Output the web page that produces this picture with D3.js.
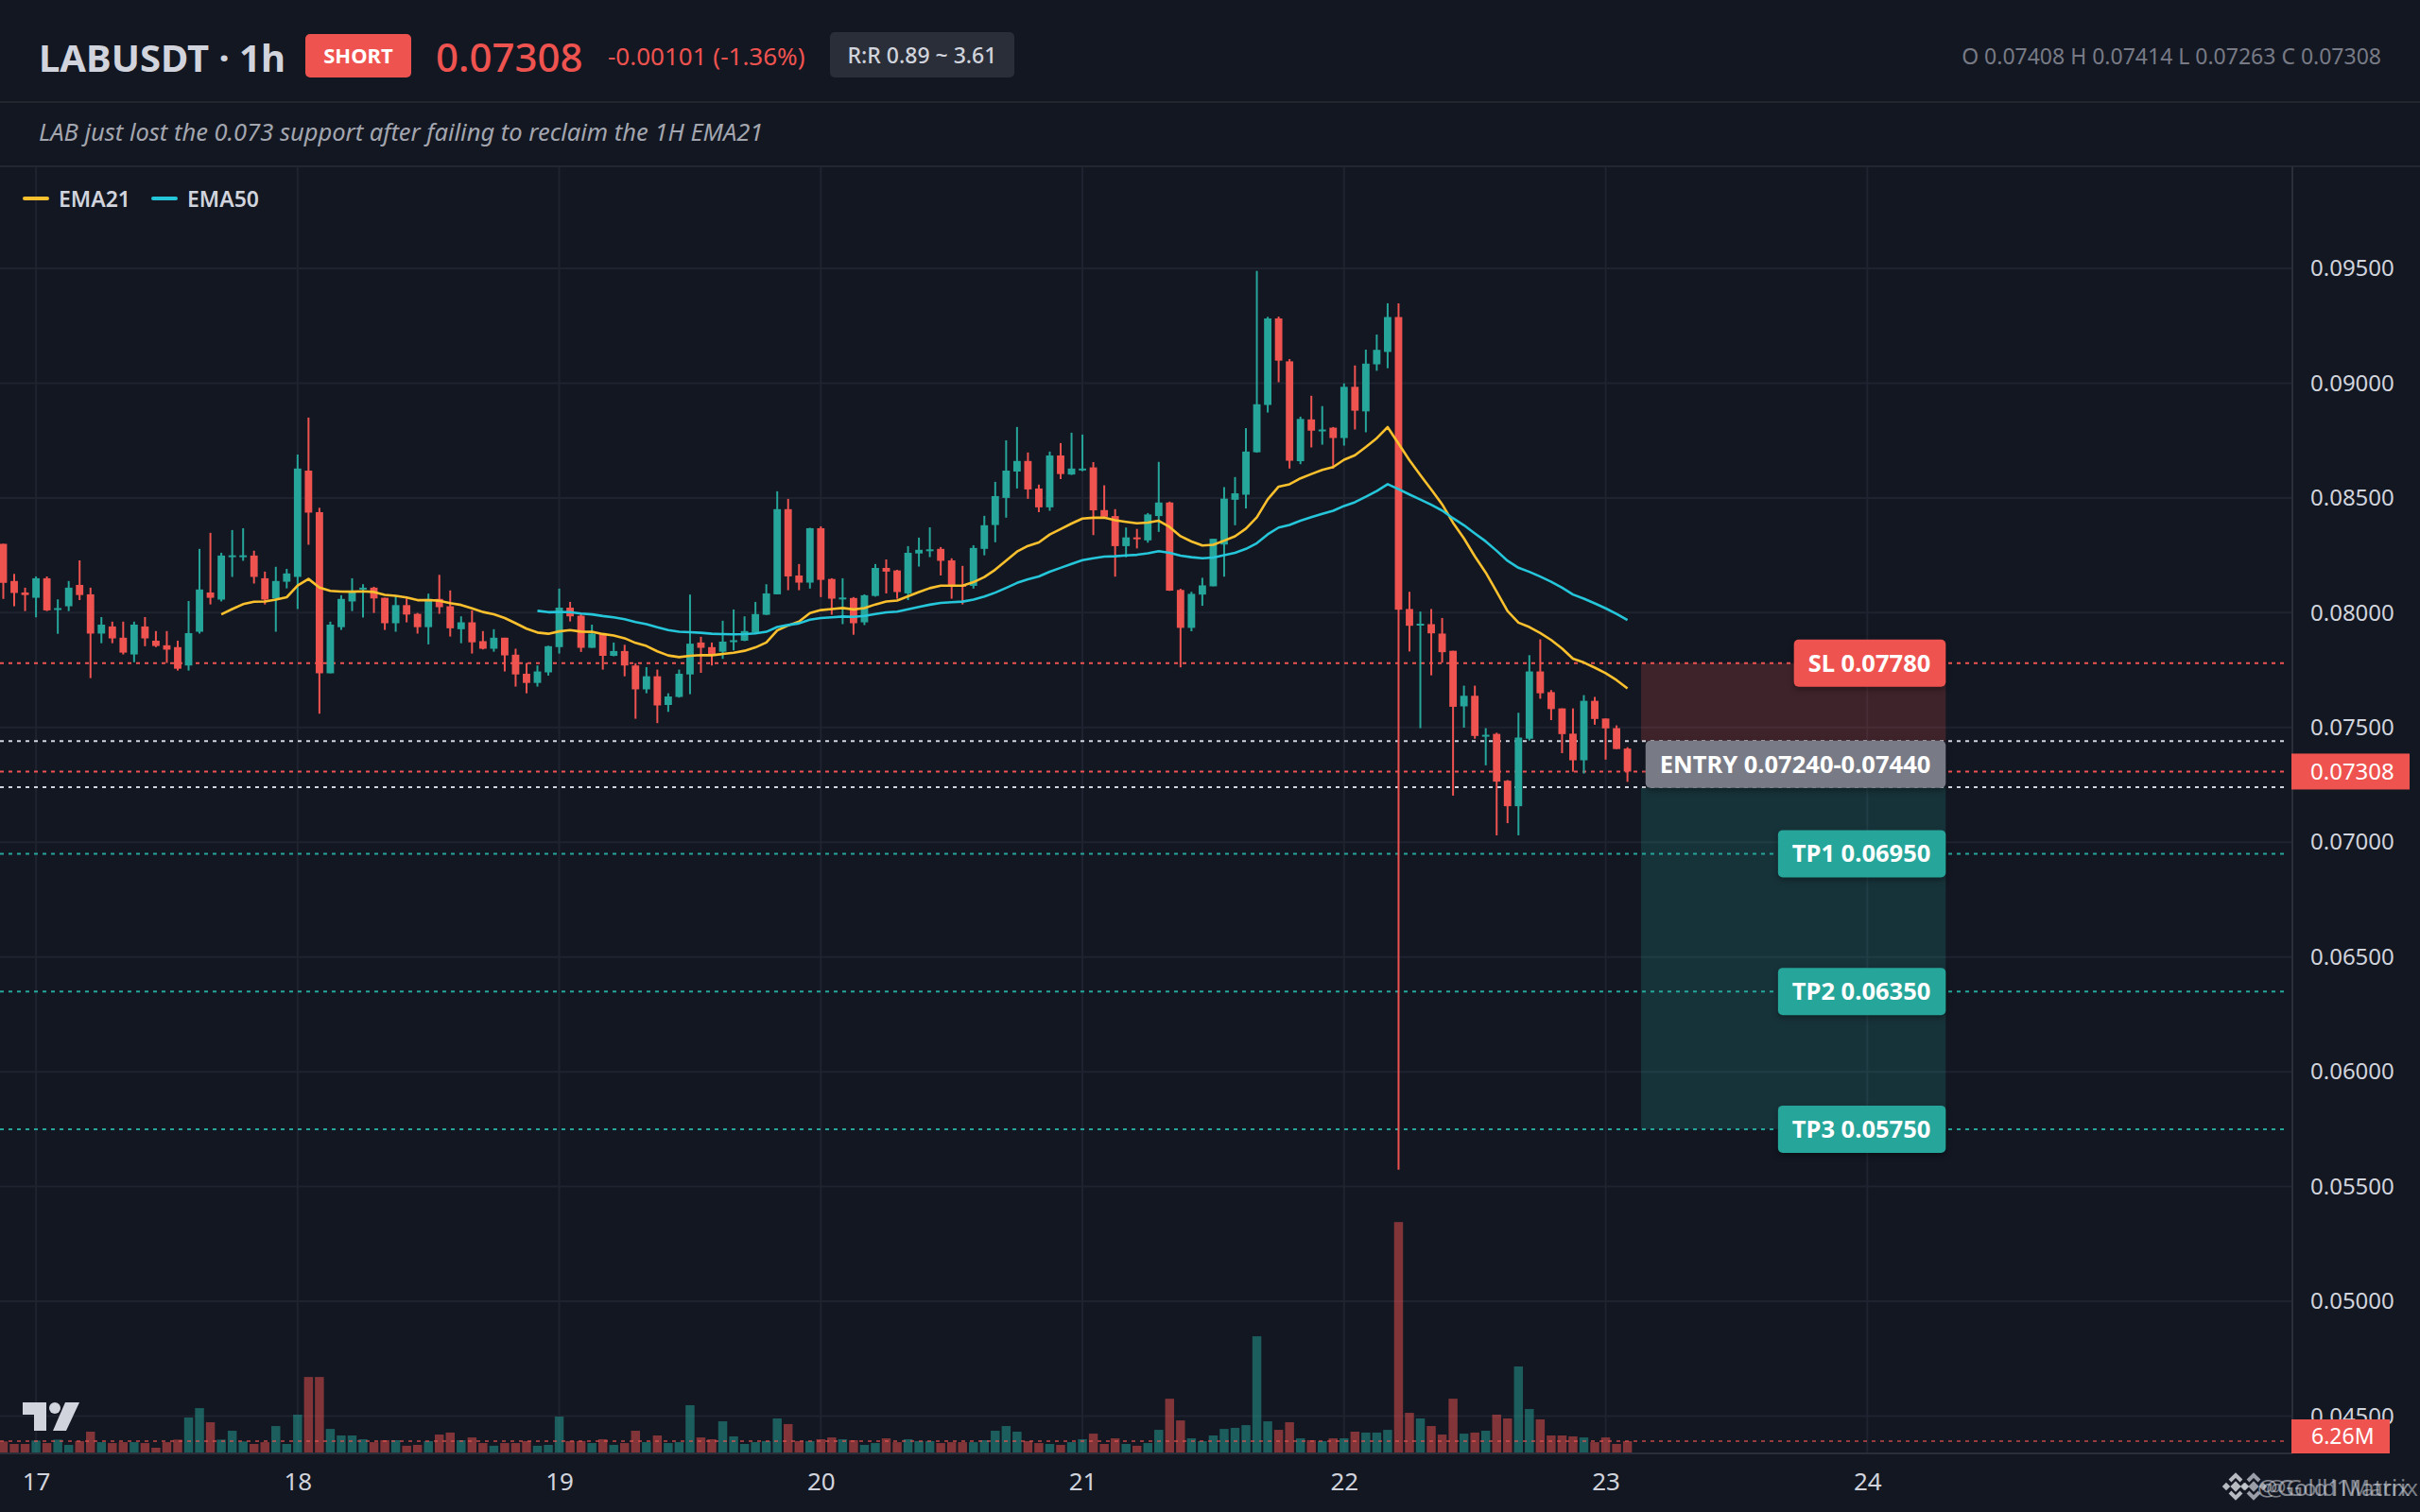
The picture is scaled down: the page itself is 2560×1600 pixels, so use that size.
<!DOCTYPE html>
<html><head><meta charset="utf-8">
<script src="https://cdn.jsdelivr.net/npm/d3@7"></script>
<style>
html,body{margin:0;padding:0;background:#131722;overflow:hidden;}
svg{display:block;font-family:"Noto Sans","Open Sans",sans-serif;}
</style></head><body>
<svg id="chart" width="2560" height="1600"></svg>
<script>
// ---------------- data ----------------
const symbolTitle = "LABUSDT · 1h";
const sideLabel = "SHORT";
const lastPriceText = "0.07308";
const changeText = "-0.00101 (-1.36%)";
const riskRewardText = "R:R 0.89 ~ 3.61";
const ohlcText = "O 0.07408 H 0.07414 L 0.07263 C 0.07308";
const noteText = "LAB just lost the 0.073 support after failing to reclaim the 1H EMA21";
const legendNames = ["EMA21", "EMA50"];
const emaLengths = [21, 50];

const firstCandleTime = Date.UTC(2025, 8, 16, 21); // hourly candles from the 16th 21:00
const opens = [.0830,.08138,.08088,.08065,.0815,.08015,.08028,.08121,.0808,.07909,.0794,.07891,.07818,.0794,.07878,.07858,.0785,.0777,.07917,.08088,
.08057,.08247,.08247,.08249,.0815,.08062,.08135,.08156,.08619,.08438,.07736,.07937,.08049,.08101,.08109,.08065,.07954,.08033,.07995,.07937,
.0806,.08028,.07928,.07958,.07876,.07843,.07891,.07817,.07734,.07694,.0774,.0785,.08022,.07987,.07847,.07909,.07812,.07833,.0777,.07666,
.07723,.07598,.07633,.07731,.0787,.0785,.0783,.07876,.07878,.07914,.07991,.0808,.08451,.08162,.08131,.08368,.08147,.08062,.08064,.07958,
.08073,.08195,.08184,.08084,.08258,.08273,.08278,.08228,.08121,.08117,.08278,.08382,.085,.08615,.08661,.08541,.08459,.08685,.08602,.08624,
.08633,.08447,.08421,.0829,.08328,.08315,.08421,.0848,.08099,.07934,.08079,.08115,.08297,.08492,.08514,.08699,.08905,.09282,.09095,.0866,
.08842,.08793,.08806,.08761,.08984,.08877,.09082,.09136,.09288,.08016,.07948,.0795,.07909,.07834,.07592,.07638,.07464,.07472,.07268,.07157,
.07451,.07744,.07654,.07583,.07473,.07357,.07616,.07539,.07497,.07408];
const highs = [.0830,.08169,.08109,.08158,.08158,.08058,.08138,.08228,.08109,.07981,.07961,.07961,.07961,.07981,.0792,.0792,.07878,.08051,.08278,.08348,
.08261,.0836,.08368,.0827,.08179,.082,.08191,.08689,.0885,.08457,.07961,.08076,.0815,.08124,.08113,.08065,.08076,.08062,.07999,.08083,
.08165,.08097,.07984,.0801,.0792,.07928,.07891,.07843,.07781,.0777,.07856,.08105,.08047,.07994,.07948,.07909,.0787,.0786,.0778,.07763,
.07752,.07649,.07752,.08079,.07895,.0787,.07965,.08014,.07984,.08047,.08124,.08529,.08496,.08212,.0837,.08376,.0815,.0815,.08068,.0808,
.08212,.08232,.08187,.0829,.08327,.08372,.08286,.08237,.08204,.08294,.08422,.0857,.08751,.08809,.08698,.08558,.08702,.08739,.08784,.08776,
.08656,.08555,.08451,.08371,.08365,.08434,.08657,.08484,.08104,.08091,.08152,.08322,.08547,.08591,.08804,.09489,.09289,.0929,.09105,.08854,
.08945,.089,.08809,.08999,.09077,.09146,.09212,.09348,.09348,.08091,.08005,.08016,.07977,.07834,.07682,.07682,.07497,.07477,.07271,.07564,
.07815,.07884,.07663,.07583,.07583,.07641,.07633,.07539,.07509,.07414];
const lows = [.0806,.08028,.08007,.0798,.08007,.07908,.08007,.08055,.07715,.07867,.07867,.07818,.07784,.07854,.0785,.07781,.07748,.07748,.07909,.08036,
.08049,.08156,.08226,.08127,.08036,.07917,.08106,.08016,.08296,.0756,.07736,.07925,.08007,.07979,.07999,.07925,.07917,.07958,.07909,.07862,
.07995,.07896,.07867,.07822,.0784,.0783,.07744,.07678,.07649,.07678,.07726,.07822,.07962,.07829,.07847,.07752,.0781,.07723,.07538,.07649,
.07519,.07568,.0763,.07645,.07738,.0777,.07799,.07836,.07876,.0791,.0799,.0808,.08098,.08098,.08105,.08068,.07991,.0795,.07904,.07946,
.0807,.08084,.08061,.08055,.08201,.08242,.08162,.08061,.08036,.08105,.0825,.08307,.08414,.08541,.08496,.08438,.08444,.08582,.086,.08616,
.08338,.08418,.08157,.08241,.0828,.08305,.08352,.08095,.07762,.07919,.0803,.08115,.08157,.08381,.08454,.08697,.08872,.09004,.08628,.08647,
.0872,.08732,.08628,.08728,.08798,.08786,.09054,.09065,.05574,.07831,.07497,.07727,.07782,.07203,.07499,.07451,.07335,.0703,.07083,.0703,
.07443,.07625,.07532,.07388,.07307,.07299,.07512,.0736,.07406,.07263];
const closes = [.0813,.08086,.08077,.0815,.0801,.0802,.08109,.08077,.07909,.07948,.07888,.07826,.07948,.07888,.07855,.07839,.07756,.07911,.08101,.08065,
.08249,.0825,.0825,.08156,.08057,.08138,.08171,.08628,.08436,.07736,.07948,.0806,.08088,.08109,.08062,.07954,.08033,.07992,.07937,.0806,
.08024,.07932,.07958,.07871,.07843,.07891,.07814,.07731,.07694,.07744,.07854,.08022,.07984,.07847,.07909,.07812,.07833,.0777,.07666,.07723,
.07596,.07635,.07734,.07865,.07847,.07812,.07874,.0788,.0792,.07994,.08084,.08451,.08158,.08131,.08368,.08143,.08061,.08066,.07954,.08076,
.08195,.08179,.0809,.08261,.08274,.08276,.08226,.08121,.08118,.08282,.08381,.08508,.08619,.08661,.08537,.08459,.08685,.08604,.08628,.08628,
.08446,.08418,.0829,.08328,.08324,.08428,.0848,.08096,.07934,.08082,.08119,.08322,.08497,.0852,.08702,.08908,.09282,.09098,.08662,.08844,
.08793,.08798,.08761,.08984,.0888,.09085,.09145,.09288,.08013,.07943,.07952,.0791,.07828,.0759,.07638,.07463,.07468,.07264,.07157,.07456,
.07744,.07649,.0758,.07471,.07357,.07616,.07537,.07496,.07406,.07308];
const volumesM = [6.1,4.7,4.7,6.6,5.2,7.1,4.2,6.3,11.5,5.7,5.2,5.7,5.7,5.2,2.6,5.7,7.1,19.3,24.5,16.7,
7.1,12.0,6.1,4.7,5.7,14.6,4.7,20.9,41.7,41.7,13.0,9.4,9.4,7.3,5.7,6.8,6.8,3.7,4.2,6.3,
9.9,11.0,6.8,8.3,5.2,3.7,5.2,5.2,6.3,3.7,4.2,19.8,6.3,6.3,5.2,7.3,4.2,5.2,12.0,5.7,
9.4,5.2,5.7,26.1,8.3,7.3,17.2,8.9,4.7,5.7,6.3,18.8,15.7,6.3,6.3,7.3,8.3,7.3,6.8,4.2,
5.2,7.8,5.7,7.3,6.3,6.3,5.2,5.7,5.7,5.7,6.8,12.0,14.6,11.5,6.3,5.2,4.7,4.2,5.7,7.3,
10.4,4.7,7.8,4.7,3.7,5.2,12.5,29.7,17.7,7.8,6.3,9.4,13.0,13.6,15.1,64.2,17.2,12.5,16.7,7.8,
6.8,6.3,7.8,7.8,11.5,11.0,11.0,12.5,127.3,21.9,18.8,14.6,9.9,29.7,10.4,11.0,12.0,20.9,18.8,47.5,
24.0,18.3,9.4,9.4,8.9,8.3,5.7,8.3,4.7,6.26];
const lastVolumeLabel = "6.26M";

const priceTicks = [0.045,0.05,0.055,0.06,0.065,0.07,0.075,0.08,0.085,0.09,0.095];
const dayTicks = [17,18,19,20,21,22,23,24];

const stopLoss = 0.0778;
const entryLow = 0.0724, entryHigh = 0.0744;
const targets = [0.0695, 0.0635, 0.0575];
const targetNames = ["TP1", "TP2", "TP3"];
const positionStart = Date.UTC(2025, 8, 23, 3, 15);
const positionEnd = Date.UTC(2025, 8, 24, 7, 12);
const watermark = "@Gold1Matrix";

// ---------------- layout ----------------
const W = 2560, H = 1600;
const plotL = 0, plotR = 2425, plotT = 176, plotB = 1538;
const C = {bg:"#131722", grid:"#1f2330", border:"#2a2e39", text:"#d1d4dc", muted:"#787b86",
  up:"#26a69a", down:"#ef5350", ema21:"#fbc02d", ema50:"#26c6da"};
const HOUR = 3600e3;
const times = opens.map((_, i) => new Date(firstCandleTime + i * HOUR));
const candles = opens.map((o, i) => ({t: times[i], o, h: highs[i], l: lows[i], c: closes[i], v: volumesM[i]}));

const svg = d3.select("#chart");
svg.append("rect").attr("width", W).attr("height", H).attr("fill", C.bg);

const x = d3.scaleUtc()
  .domain([new Date(Date.UTC(2025, 8, 16, 20, 41, 50)), new Date(Date.UTC(2025, 8, 25, 15, 0))])
  .range([plotL, plotR]);
const y = d3.scaleLinear().domain([0.045, 0.095]).range([1498.5, 284]);
const yv = d3.scaleLinear().domain([0, 130]).range([1537, 1288]);
const step = x(new Date(firstCandleTime + HOUR)) - x(new Date(firstCandleTime));

// ---------- header ----------
const hdr = svg.append("g");
hdr.append("text").attr("x", 41).attr("y", 76).attr("font-size", 40).attr("font-weight", 700)
  .attr("fill", C.text).text(symbolTitle);
hdr.append("rect").attr("x", 323).attr("y", 36).attr("width", 112).attr("height", 46).attr("rx", 5).attr("fill", C.down);
hdr.append("text").attr("x", 379).attr("y", 67).attr("text-anchor", "middle").attr("font-size", 22)
  .attr("font-weight", 700).attr("fill", "#fff").text(sideLabel);
hdr.append("text").attr("x", 461).attr("y", 76).attr("font-size", 42).attr("font-weight", 500)
  .attr("fill", C.down).text(lastPriceText);
hdr.append("text").attr("x", 643).attr("y", 69).attr("font-size", 26).attr("fill", C.down).text(changeText);
hdr.append("rect").attr("x", 878).attr("y", 34).attr("width", 195).attr("height", 48).attr("rx", 5).attr("fill", "#2a2e39");
hdr.append("text").attr("x", 975.5).attr("y", 67).attr("text-anchor", "middle").attr("font-size", 23)
  .attr("font-weight", 500).attr("fill", C.text).text(riskRewardText);
hdr.append("text").attr("x", 2519).attr("y", 68).attr("text-anchor", "end").attr("font-size", 23)
  .attr("fill", C.muted).text(ohlcText);
hdr.append("line").attr("x1", 0).attr("x2", W).attr("y1", 108).attr("y2", 108).attr("stroke", "#22262f").attr("stroke-width", 2);
hdr.append("text").attr("x", 41).attr("y", 149).attr("font-size", 25.5).attr("font-style", "italic")
  .attr("fill", "#a3a6af").text(noteText);
hdr.append("line").attr("x1", 0).attr("x2", W).attr("y1", 176).attr("y2", 176).attr("stroke", "#22262f").attr("stroke-width", 2);

// ---------- plot ----------
svg.append("defs").append("clipPath").attr("id", "plotClip")
  .append("rect").attr("x", plotL).attr("y", plotT + 1).attr("width", plotR - plotL).attr("height", plotB - plotT - 1);
const plot = svg.append("g").attr("clip-path", "url(#plotClip)");

const dayDates = dayTicks.map(d => new Date(Date.UTC(2025, 8, d)));
// grid
plot.append("g").selectAll("line").data(priceTicks).join("line")
  .attr("x1", plotL).attr("x2", plotR).attr("y1", d => y(d)).attr("y2", d => y(d))
  .attr("stroke", C.grid).attr("stroke-width", 2);
plot.append("g").selectAll("line").data(dayDates).join("line")
  .attr("x1", d => x(d)).attr("x2", d => x(d)).attr("y1", plotT).attr("y2", plotB)
  .attr("stroke", C.grid).attr("stroke-width", 2);

// position zones
const px0 = x(new Date(positionStart)), px1 = x(new Date(positionEnd));
plot.append("rect").attr("x", px0).attr("width", px1 - px0)
  .attr("y", y(stopLoss)).attr("height", y(entryHigh) - y(stopLoss))
  .attr("fill", "rgba(239,83,80,0.2)");
plot.append("rect").attr("x", px0).attr("width", px1 - px0)
  .attr("y", y(entryLow)).attr("height", y(targets[2]) - y(entryLow))
  .attr("fill", "rgba(38,166,154,0.2)");

// volume
plot.append("g").selectAll("rect").data(candles).join("rect")
  .attr("x", d => x(d.t) - step * 0.41).attr("width", step * 0.82)
  .attr("y", d => yv(d.v)).attr("height", d => yv(0) - yv(d.v))
  .attr("fill", d => d.c >= d.o ? "rgba(38,166,154,0.5)" : "rgba(239,83,80,0.5)");
plot.append("line").attr("x1", plotL).attr("x2", plotR - 5)
  .attr("y1", yv(volumesM[volumesM.length - 1])).attr("y2", yv(volumesM[volumesM.length - 1]))
  .attr("stroke", "rgba(239,83,80,0.6)").attr("stroke-width", 2).attr("stroke-dasharray", "4 5");

// level lines
const levelLines = [
  {p: stopLoss, col: C.down},
  {p: entryHigh, col: "#d1d4dc"},
  {p: closes[closes.length - 1], col: C.down},
  {p: entryLow, col: "#d1d4dc"},
  ...targets.map(p => ({p, col: C.up}))
];
plot.append("g").selectAll("line").data(levelLines).join("line")
  .attr("x1", plotL).attr("x2", plotR - 5).attr("y1", d => y(d.p)).attr("y2", d => y(d.p))
  .attr("stroke", d => d.col).attr("stroke-width", 2).attr("stroke-dasharray", "4 5");

// candles
const cg = plot.append("g");
const bw = step * 0.68;
cg.selectAll("line").data(candles).join("line")
  .attr("x1", d => x(d.t)).attr("x2", d => x(d.t))
  .attr("y1", d => y(d.h)).attr("y2", d => y(d.l))
  .attr("stroke", d => d.c >= d.o ? C.up : C.down).attr("stroke-width", 2);
cg.selectAll("rect").data(candles).join("rect")
  .attr("x", d => x(d.t) - bw / 2).attr("width", bw)
  .attr("y", d => y(Math.max(d.o, d.c)))
  .attr("height", d => Math.max(2, Math.abs(y(d.o) - y(d.c))))
  .attr("fill", d => d.c >= d.o ? C.up : C.down);

// EMAs (exponential moving averages of the closes, SMA-seeded)
function ema(vals, len) {
  const k = 2 / (len + 1);
  const out = new Array(vals.length).fill(null);
  let prev = null;
  for (let i = 0; i < vals.length; i++) {
    if (i === len - 1) prev = d3.mean(vals.slice(0, len));
    else if (i >= len) prev = vals[i] * k + prev * (1 - k);
    out[i] = prev;
  }
  return out;
}
const emaColors = [C.ema21, C.ema50];
emaLengths.forEach((len, j) => {
  const vals = ema(closes, len);
  const line = d3.line().defined(d => d[1] !== null).x(d => x(d[0])).y(d => y(d[1]));
  plot.append("path").datum(times.map((t, i) => [t, vals[i]]))
    .attr("d", line).attr("fill", "none").attr("stroke", emaColors[j])
    .attr("stroke-width", 2.6).attr("stroke-linejoin", "round");
});

// level labels
const labelRight = px1;
function levelLabel(text, fill, yc) {
  const g = svg.append("g");
  const t = g.append("text").attr("x", labelRight - 16).attr("y", yc + 9)
    .attr("text-anchor", "end").attr("font-size", 25.5).attr("font-weight", 700)
    .attr("fill", "#fff").text(text);
  const bb = t.node().getBBox();
  g.insert("rect", "text").attr("x", bb.x - 15).attr("y", yc - 25)
    .attr("width", labelRight - bb.x + 15).attr("height", 50).attr("rx", 5).attr("fill", fill)
    .attr("filter", "drop-shadow(0 3px 3px rgba(0,0,0,0.35))");
}
levelLabel("SL " + stopLoss.toFixed(5), C.down, y(stopLoss));
levelLabel("ENTRY " + entryLow.toFixed(5) + "-" + entryHigh.toFixed(5), "#787b86", (y(entryLow) + y(entryHigh)) / 2);
targets.forEach((p, i) => levelLabel(targetNames[i] + " " + p.toFixed(5), C.up, y(p)));

// legend
const lg = svg.append("g");
legendNames.forEach((n, i) => {
  const x0 = 24 + i * 136;
  lg.append("line").attr("x1", x0 + 2).attr("x2", x0 + 26).attr("y1", 210).attr("y2", 210)
    .attr("stroke", emaColors[i]).attr("stroke-width", 4).attr("stroke-linecap", "round");
  lg.append("text").attr("x", x0 + 38).attr("y", 219).attr("font-size", 23).attr("font-weight", 600)
    .attr("fill", C.text).text(n);
});

// borders
svg.append("line").attr("x1", 0).attr("x2", plotR).attr("y1", plotB).attr("y2", plotB).attr("stroke", C.border).attr("stroke-width", 2);
svg.append("line").attr("x1", plotR).attr("x2", plotR).attr("y1", plotT).attr("y2", plotB).attr("stroke", C.border).attr("stroke-width", 2);

// price axis
const yAxis = d3.axisRight(y).tickValues(priceTicks).tickFormat(d3.format(".5f")).tickSize(0).tickPadding(0);
const ya = svg.append("g").attr("transform", `translate(${plotR + 19},0)`).call(yAxis);
ya.select(".domain").remove();
ya.selectAll("text").attr("font-size", 24).attr("fill", C.text).attr("font-family", "Noto Sans, sans-serif");

// x axis
const xAxis = d3.axisBottom(x).tickValues(dayDates).tickFormat(d3.utcFormat("%-d")).tickSize(0).tickPadding(0);
const xa = svg.append("g").attr("transform", `translate(0,${plotB + 39})`).call(xAxis);
xa.select(".domain").remove();
xa.selectAll("text").attr("font-size", 26).attr("fill", C.text).attr("dy", 0).attr("font-family", "Noto Sans, sans-serif");

// last price tag
const lp = closes[closes.length - 1];
svg.append("rect").attr("x", plotR - 1).attr("y", y(lp) - 19).attr("width", 125).attr("height", 38).attr("fill", C.down);
svg.append("text").attr("x", plotR + 19).attr("y", y(lp) + 8.5).attr("font-size", 24).attr("fill", "#fff").text(d3.format(".5f")(lp));
// volume tag
svg.append("rect").attr("x", plotR - 1).attr("y", 1502).attr("width", 104).attr("height", 36).attr("fill", C.down);
svg.append("text").attr("x", plotR + 20).attr("y", 1528).attr("font-size", 23).attr("fill", "#fff").text(lastVolumeLabel);

// TradingView logo
const logo = svg.append("g").attr("fill", C.text);
logo.append("path").attr("d", "M24,1484 H49 V1514 H36 V1497 H24 Z");
logo.append("circle").attr("cx", 58).attr("cy", 1490).attr("r", 6);
logo.append("path").attr("d", "M69,1484 H84 L70,1514 H56 Z");

// watermark (two overlapping stamps, as in the source image)
function binanceMark(cx, cy, op) {
  const g = svg.append("g").attr("transform", `translate(${cx},${cy})`).attr("opacity", op);
  g.append("rect").attr("x", -4).attr("y", -4).attr("width", 8).attr("height", 8)
    .attr("transform", "rotate(45)").attr("fill", "#c9ccd3");
  [[-10, 0], [10, 0]].forEach(([dx, dy]) => g.append("rect").attr("x", -3).attr("y", -3).attr("width", 6).attr("height", 6)
    .attr("transform", `translate(${dx},${dy}) rotate(45)`).attr("fill", "#c9ccd3"));
  g.append("path").attr("d", "M-6,-6 L0,-12 L6,-6").attr("fill", "none").attr("stroke", "#c9ccd3").attr("stroke-width", 4);
  g.append("path").attr("d", "M-6,6 L0,12 L6,6").attr("fill", "none").attr("stroke", "#c9ccd3").attr("stroke-width", 4);
}
binanceMark(2365, 1573, 0.9);
binanceMark(2384, 1573, 0.75);
svg.append("text").attr("x", 2388).attr("y", 1583).attr("font-size", 24).attr("fill", "rgba(209,212,220,0.6)").text(watermark);
svg.append("text").attr("x", 2397).attr("y", 1583).attr("font-size", 24).attr("fill", "rgba(209,212,220,0.55)").text(watermark);
</script>
</body></html>
